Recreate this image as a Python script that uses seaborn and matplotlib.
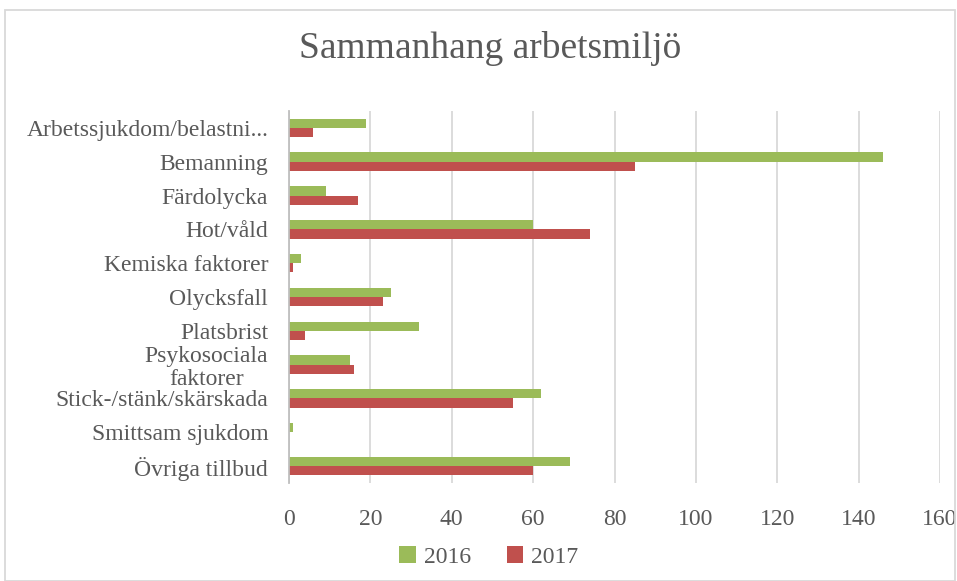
import numpy as np
import pandas as pd
import seaborn as sns
import matplotlib.pyplot as plt
from matplotlib.patches import Rectangle

# data
categories = ["Arbetssjukdom/belastni...", "Bemanning", "Färdolycka", "Hot/våld",
              "Kemiska faktorer", "Olycksfall", "Platsbrist", "Psykosociala\nfaktorer",
              "Stick-/stänk/skärskada", "Smittsam sjukdom", "Övriga tillbud"]
values_2016 = [19, 146, 9, 60, 3, 25, 32, 15, 62, 1, 69]
values_2017 = [6, 85, 17, 74, 1, 23, 4, 16, 55, 0, 60]
years = ["2016", "2017"]
colors = ["#9BBB59", "#C0504D"]

df = pd.DataFrame({
    "kategori": categories * 2,
    "antal": values_2016 + values_2017,
    "år": [years[0]] * len(categories) + [years[1]] * len(categories),
})

sns.set_style("white")
plt.rcParams['font.family'] = ['Liberation Serif', 'DejaVu Serif']
text_color = "#595959"

fig = plt.figure(figsize=(9.57, 5.81), dpi=100)
ax = fig.add_axes([289 / 957, 1 - 483 / 581, (940 - 289) / 957, (483 - 111) / 581])

sns.barplot(data=df, x="antal", y="kategori", hue="år", orient="h",
            palette=colors, width=0.55, saturation=1, linewidth=0, ax=ax, legend=True)

ax.set_xlim(0, 160)
ax.set_xticks(np.arange(0, 161, 20))
ax.set_ylim(len(categories) - 0.5, -0.5)
ax.set_xlabel("")
ax.set_ylabel("")
ax.grid(axis="x", color="#D9D9D9", linewidth=1.3)
ax.set_axisbelow(True)
for side in ["top", "right", "bottom"]:
    ax.spines[side].set_visible(False)
ax.spines["left"].set_color("#BFBFBF")
ax.spines["left"].set_linewidth(1.3)
ax.tick_params(axis="both", length=0, labelsize=17, colors=text_color)
ax.tick_params(axis="y", pad=15)
ax.tick_params(axis="x", pad=19)
for lbl in ax.get_yticklabels():
    lbl.set_linespacing(1.1)
    lbl.set_multialignment("center")

fig.text(490 / 957, 1 - 49 / 581, "Sammanhang arbetsmiljö", ha="center", va="center",
         fontsize=27, color=text_color)

handles, labels = ax.get_legend_handles_labels()
ax.legend(handles, labels, loc="center", bbox_to_anchor=(489 / 957, 1 - 557 / 581),
          bbox_transform=fig.transFigure, ncol=2, frameon=False, fontsize=17,
          handlelength=0.7, handleheight=0.7, handletextpad=0.35, columnspacing=1.5,
          labelcolor=text_color)

# outer chart border
fig.patches.append(Rectangle((5 / 957, 0), 950 / 957, 1 - 10 / 581, transform=fig.transFigure,
                             fill=False, edgecolor="#D9D9D9", linewidth=1.3))

fig.savefig("out.png", dpi=100)
